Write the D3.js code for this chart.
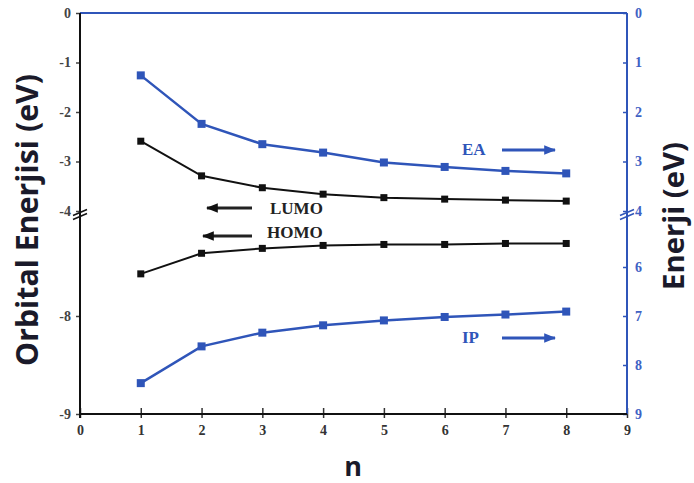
<!DOCTYPE html>
<html>
<head>
<meta charset="utf-8">
<script src="https://cdn.jsdelivr.net/npm/d3@7"></script>
<style>
  body { margin: 0; background: #fff; }
  .tick text { font-family: "Liberation Serif", serif; font-weight: bold; font-size: 14px; }
  .note { font-family: "Liberation Serif", serif; font-weight: bold; font-size: 17px; }
  .title { font-family: "Open Sans", sans-serif; font-weight: bold; }
</style>
</head>
<body>
<div id="chart"></div>
<script>
// n values (x axis)
const nValues = [1, 2, 3, 4, 5, 6, 7, 8];

// left axis (orbital energies, eV)
const lumo = [-2.59, -3.29, -3.53, -3.66, -3.73, -3.76, -3.78, -3.80];
const homo = [-7.57, -7.36, -7.31, -7.28, -7.27, -7.27, -7.26, -7.26];

// right axis (energies, eV)
const ea = [1.26, 2.24, 2.65, 2.82, 3.02, 3.11, 3.19, 3.24];
const ip = [8.37, 7.62, 7.34, 7.19, 7.09, 7.02, 6.97, 6.91];

// tick labels
const xTicks = [0, 1, 2, 3, 4, 5, 6, 7, 8, 9];
const leftTopTicks = [0, -1, -2, -3, -4];
const leftBotTicks = [-8, -9];
const rightTopTicks = [0, 1, 2, 3, 4];
const rightBotTicks = [6, 7, 8, 9];

const blue = "#2f55b9";
const W = 694, H = 483;
const plot = {left: 80, right: 627, top: 13, bottom: 414, breakTop: 211, breakBot: 218};

const svg = d3.select("#chart").append("svg")
    .attr("width", W)
    .attr("height", H);

// scales
let x = d3.scaleLinear([0, 9], [plot.left, plot.right]);
let yTop = d3.scaleLinear([0, -4], [plot.top, plot.breakTop]);
let yBot = d3.scaleLinear([-7, -9], [plot.breakBot, plot.bottom]);
let rTop = d3.scaleLinear([0, 4], [plot.top, plot.breakTop]);
let rBot = d3.scaleLinear([5, 9], [plot.breakBot, plot.bottom]);

function styleAxis(g, color) {
    g.select(".domain").remove();
    g.selectAll(".tick line").attr("stroke", color).attr("stroke-width", 1.5);
    g.selectAll(".tick text").attr("fill", color);
}

// left axis ticks
[[yTop, leftTopTicks], [yBot, leftBotTicks]].forEach(([s, t]) => {
    svg.append("g")
        .attr("transform", `translate(${plot.left},0)`)
        .call(d3.axisLeft(s).tickValues(t).tickSize(4).tickPadding(5).tickFormat(d => String(d)))
        .call(g => styleAxis(g, "#444"));
});

// right axis ticks (inside)
[[rTop, rightTopTicks], [rBot, rightBotTicks]].forEach(([s, t]) => {
    let g = svg.append("g")
        .attr("transform", `translate(${plot.right},0)`)
        .call(d3.axisRight(s).tickValues(t).tickSize(0).tickPadding(8).tickFormat(d => String(d)))
        .call(g => styleAxis(g, "#3f62c4"));
    g.selectAll(".tick").append("line")
        .attr("x1", -4).attr("x2", 0)
        .attr("stroke", blue).attr("stroke-width", 1.5);
});

// bottom axis (ticks pointing up)
let xg = svg.append("g")
    .attr("transform", `translate(0,${plot.bottom})`)
    .call(d3.axisBottom(x).tickValues(xTicks).tickSize(-6).tickPadding(11))
    .call(g => styleAxis(g, "#333"));
xg.selectAll(".tick line").attr("y2", -6).attr("y1", 4);

// frame lines
svg.append("line").attr("x1", plot.left).attr("x2", plot.right).attr("y1", plot.top).attr("y2", plot.top)
    .attr("stroke", blue).attr("stroke-width", 2);
svg.append("line").attr("x1", plot.right).attr("x2", plot.right).attr("y1", plot.top).attr("y2", plot.bottom)
    .attr("stroke", blue).attr("stroke-width", 2);
svg.append("line").attr("x1", plot.left).attr("x2", plot.left).attr("y1", plot.top).attr("y2", plot.bottom + 4)
    .attr("stroke", "#111").attr("stroke-width", 2);
svg.append("line").attr("x1", plot.left).attr("x2", plot.right).attr("y1", plot.bottom).attr("y2", plot.bottom)
    .attr("stroke", "#111").attr("stroke-width", 2);

// axis break marks
[[plot.left, "#111"], [plot.right, blue]].forEach(([ax, c]) => {
    let mid = (plot.breakTop + plot.breakBot) / 2;
    [-2, 2].forEach(off => {
        svg.append("line")
            .attr("x1", ax - 7).attr("x2", ax + 7)
            .attr("y1", mid + off + 3)
            .attr("y2", mid + off - 3)
            .attr("stroke", c).attr("stroke-width", 1.5);
    });
});

// series
const series = [
    {vals: lumo, y: yTop, color: "#111", w: 2, size: 7},
    {vals: homo, y: yBot, color: "#111", w: 2, size: 7},
    {vals: ea, y: rTop, color: blue, w: 2.5, size: 8},
    {vals: ip, y: rBot, color: blue, w: 2.5, size: 8}
];

series.forEach(s => {
    let pts = nValues.map((n, i) => [x(n), s.y(s.vals[i])]);
    svg.append("path")
        .attr("d", d3.line()(pts))
        .attr("fill", "none")
        .attr("stroke", s.color)
        .attr("stroke-width", s.w);
    svg.selectAll(null).data(pts).enter().append("rect")
        .attr("x", d => d[0] - s.size / 2)
        .attr("y", d => d[1] - s.size / 2)
        .attr("width", s.size)
        .attr("height", s.size)
        .attr("fill", s.color);
});

// arrow markers
const defs = svg.append("defs");
[["arrBlack", "#111"], ["arrBlue", blue]].forEach(([id, c]) => {
    defs.append("marker")
        .attr("id", id)
        .attr("viewBox", "0 0 10 10")
        .attr("refX", 9).attr("refY", 5)
        .attr("markerWidth", 4).attr("markerHeight", 3.2)
        .attr("markerUnits", "strokeWidth")
        .attr("orient", "auto")
        .attr("preserveAspectRatio", "none")
        .append("path").attr("d", "M0,0L10,5L0,10Z").attr("fill", c);
});

// annotations
const notes = [
    {text: "LUMO", tx: 270, ty: 210, ax1: 252, ax2: 207, ay: 208, color: "#222", m: "arrBlack"},
    {text: "HOMO", tx: 267, ty: 234, ax1: 252, ax2: 203, ay: 236, color: "#222", m: "arrBlack"},
    {text: "EA", tx: 462, ty: 151, ax1: 502, ax2: 555, ay: 150, color: blue, m: "arrBlue"},
    {text: "IP", tx: 462, ty: 339, ax1: 502, ax2: 555, ay: 338, color: blue, m: "arrBlue"}
];
notes.forEach(d => {
    svg.append("text").attr("class", "note")
        .attr("x", d.tx).attr("y", d.ty)
        .attr("dominant-baseline", "middle")
        .attr("fill", d.color)
        .text(d.text);
    svg.append("line")
        .attr("x1", d.ax1).attr("x2", d.ax2)
        .attr("y1", d.ay).attr("y2", d.ay)
        .attr("stroke", d.color).attr("stroke-width", 3)
        .attr("marker-end", `url(#${d.m})`);
});

// axis titles, sized to the length they take in the reference
function fitTitle(label, cx, cy, len) {
    let t = svg.append("text").attr("class", "title")
        .attr("text-anchor", "middle")
        .attr("font-size", 20)
        .attr("fill", "#1a1a2a")
        .text(label);
    let fs = 20 * len / t.node().getComputedTextLength();
    t.attr("font-size", fs)
        .attr("transform", `translate(${cx},${cy}) rotate(-90)`);
}
fitTitle("Orbital Enerjisi (eV)", 38, 220, 292);
fitTitle("Enerji (eV)", 684, 216, 148);

svg.append("text").attr("class", "title")
    .attr("x", 353).attr("y", 476)
    .attr("text-anchor", "middle")
    .attr("font-size", 27)
    .attr("fill", "#1a1a2a")
    .text("n");
</script>
</body>
</html>
